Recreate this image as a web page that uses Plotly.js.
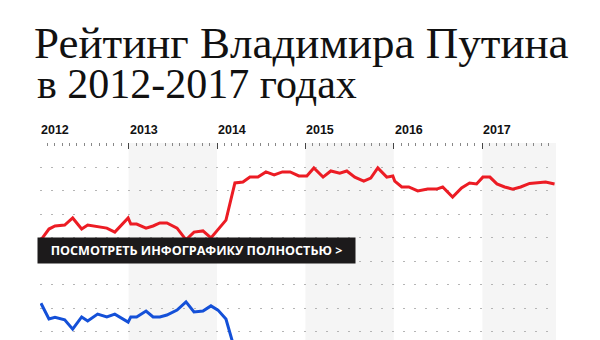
<!DOCTYPE html>
<html><head><meta charset="utf-8">
<script src="https://cdn.plot.ly/plotly-3.0.1.min.js"></script>
<style>html,body{margin:0;padding:0;background:#fff;}#chart{width:600px;height:340px;}</style>
</head><body><div id="chart"></div>
<script>
const titleLine1 = 'Рейтинг Владимира Путина';
const titleLine2 = 'в 2012-2017 годах';
const buttonText = 'ПОСМОТРЕТЬ ИНФОГРАФИКУ ПОЛНОСТЬЮ &gt;';

const yearTicks = ['2012-01-01','2013-01-01','2014-01-01','2015-01-01','2016-01-01','2017-01-01'];
const yearLabels = ['2012','2013','2014','2015','2016','2017'];
const rangeEnd = '2017-11-01';

const dates = [
 '2012-01-05','2012-02-07','2012-03-03','2012-04-12','2012-05-15','2012-06-21','2012-07-16','2012-08-26',
 '2012-10-03','2012-11-05','2012-12-30','2013-01-10','2013-02-03','2013-03-14','2013-04-12','2013-05-10',
 '2013-06-08','2013-07-20','2013-08-26','2013-09-28','2013-11-04','2013-12-07','2014-01-05','2014-02-07',
 '2014-03-16','2014-04-18','2014-05-17','2014-06-19','2014-07-22','2014-08-25','2014-09-28','2014-10-30',
 '2014-12-05','2015-01-07','2015-02-05','2015-03-15','2015-04-16','2015-05-23','2015-06-21','2015-07-24',
 '2015-08-30','2015-09-28','2015-10-27','2015-12-03','2015-12-28','2016-01-05','2016-02-03','2016-03-03',
 '2016-04-09','2016-05-20','2016-06-26','2016-07-21','2016-08-31','2016-10-07','2016-11-09','2016-12-08',
 '2017-01-03','2017-02-01','2017-03-02','2017-04-03','2017-05-06','2017-06-08','2017-07-15','2017-08-17',
 '2017-09-19','2017-10-26'
];
const approve = [
 59,63.6,64.9,65.3,68.3,63.6,65.3,64.5,
 64,62.3,68.3,65.7,65.7,64,64.9,66.2,
 66.2,64,59,62.3,62.8,59.8,63.2,67.4,
 83.2,83.6,85.7,85.7,87.9,86.6,87.9,87.9,
 86.2,86.2,89.6,85.7,88.3,87.4,88.3,85.7,
 84,85.3,89.6,85.7,86.2,84,81.5,81.5,
 79.8,80.6,80.6,81.5,77.2,81.1,83.2,82.8,
 85.7,85.7,82.8,81.5,80.6,81.5,83,83.4,
 83.6,82.8
];
const disapprove = [
 32,25.3,26,25,21,26.2,24.5,27.4,
 26.2,27.4,24,26.2,26.2,28.7,26.2,26.2,
 27,29.1,32.6,28.3,28.7,30.9,29.1,25.3,
 12,11,10,9,10,9,11,10,
 10,11,9,10,9,10,9,9,
 11,10,9,11,10,10,12,12,
 13,12,12,11,13,12,11,11,
 12,10,10,11,12,12,11,11,
 12,12
];

const shapes = [];
yearTicks.forEach((t, i) => {
  if (i % 2 === 1) {
    shapes.push({type:'rect', xref:'x', yref:'paper', x0:t, x1: yearTicks[i+1] || rangeEnd,
      y0:0, y1:1, fillcolor:'#f5f5f5', line:{width:0}, layer:'below'});
  }
});

const W = 600, H = 340, mL = 40, mR = 44, mT = 143, mB = 0;
const plotH = H - mT - mB;

const annotations = yearLabels.map((lab, i) => ({
  xref:'x', yref:'paper', x: yearTicks[i], y: 1 + 13/plotH, xanchor:'left', yanchor:'middle',
  text: lab, showarrow:false, xshift:-1,
  font:{family:'Liberation Sans Narrow, Arial Narrow, sans-serif', size:12.5, color:'#111', weight:700}
}));
annotations.push({
  xref:'paper', yref:'paper', x: -3/516, y: 1 - (237-mT)/plotH, xanchor:'left', yanchor:'top',
  text: '<b>' + buttonText + '</b>', showarrow:false, width:317, height:25, align:'center', valign:'middle',
  bgcolor:'#1c1a1b', borderpad:0,
  font:{family:'Open Sans, sans-serif', size:12.6, color:'#ffffff'}
});
annotations.push({
  xref:'paper', yref:'paper', x: -5/516, y: 1 + (mT-109)/plotH, xanchor:'left', yanchor:'bottom',
  text: titleLine2, showarrow:false,
  font:{family:'Liberation Serif, serif', size:42, color:'#111'}
});

const data = [
  {x: dates, y: disapprove, type:'scatter', mode:'lines', name:'Не одобряют',
   line:{color:'#1450d8', width:3}, hoverinfo:'skip'},
  {x: dates, y: approve, type:'scatter', mode:'lines', name:'Одобряют',
   line:{color:'#ec1c24', width:3}, hoverinfo:'skip'}
];

const layout = {
  width: W, height: H,
  margin:{l:mL, r:mR, t:mT, b:mB, pad:0},
  paper_bgcolor:'#fff', plot_bgcolor:'rgba(0,0,0,0)',
  showlegend:false,
  title:{text: titleLine1, xref:'container', yref:'container', x: 34/W, xanchor:'left',
    y: 1 - 58/H, yanchor:'bottom', font:{family:'Liberation Serif, serif', size:45, color:'#111'}},
  xaxis:{type:'date', range:['2012-01-01', rangeEnd], side:'top', showgrid:false, zeroline:false, showline:false,
    tickmode:'array', tickvals: yearTicks, showticklabels:false, ticks:'inside', ticklen:6, tickwidth:1, tickcolor:'#444',
    minor:{dtick:'M1', tick0:'2012-01-01', ticks:'inside', ticklen:3, tickwidth:1, tickcolor:'#888', showgrid:false}},
  yaxis:{range:[90 - (H-167)/2.35, 90 + (167-mT)/2.35], tickmode:'linear', tick0:0, dtick:10,
    showticklabels:false, ticks:'', zeroline:false, showline:false,
    showgrid:true, gridcolor:'#b5b5b5', gridwidth:1, griddash:'2px,9px'},
  shapes: shapes,
  annotations: annotations
};
Plotly.newPlot('chart', data, layout, {displayModeBar:false, staticPlot:true});
</script></body></html>
